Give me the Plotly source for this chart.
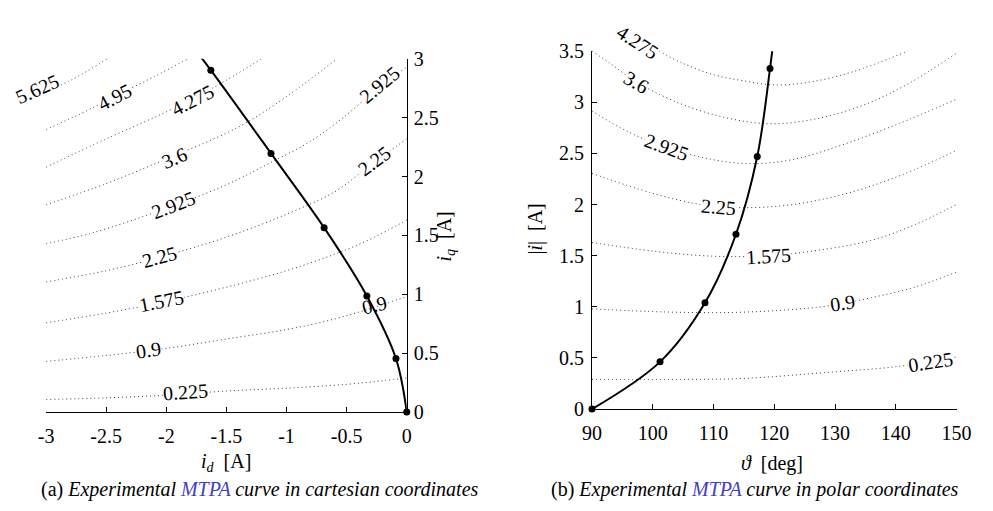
import numpy as np
import plotly.graph_objects as go

# ---------------------------------------------------------------------------
# MTPA operating points, polar form: current angle [deg] and amplitude [A]
mtpa_theta = [90.0, 101.2, 108.6, 113.7, 117.2, 119.3]
mtpa_amp = [0.0, 0.462, 1.04, 1.71, 2.47, 3.33]
# the fitted curve runs on a little past the last measured point
mtpa_tail_theta = [119.7]
mtpa_tail_amp = [3.52]

# constant-torque levels [Nm]
torque_levels = [0.225, 0.9, 1.575, 2.25, 2.925, 3.6, 4.275, 4.95, 5.625]

# iso-torque curves in the (id, iq) plane, one list per level
cart_id = [
    [-3.0, -2.5, -2.0, -1.5, -1.0, -0.5, -0.2, 0.0],
    [-3.0, -2.5, -2.0, -1.5, -1.0, -0.6, -0.3, 0.0],
    [-3.0, -2.5, -2.0, -1.5, -1.0, -0.6, -0.3, 0.0],
    [-3.0, -2.5, -2.0, -1.5, -1.0, -0.6, -0.3, 0.0],
    [-3.0, -2.62, -2.0, -1.5, -1.13, -0.8, -0.53, -0.23, 0.0],
    [-3.0, -2.5, -2.0, -1.4, -1.0, -0.58],
    [-3.0, -2.5, -2.0, -1.6, -1.21],
    [-3.0, -2.7, -2.43, -2.1, -1.82],
    [-3.0, -2.79, -2.49],
]
cart_iq = [
    [0.106, 0.12, 0.142, 0.178, 0.202, 0.235, 0.265, 0.29],
    [0.43, 0.48, 0.54, 0.62, 0.70, 0.79, 0.88, 0.98],
    [0.757, 0.84, 0.94, 1.06, 1.20, 1.34, 1.47, 1.63],
    [1.105, 1.20, 1.33, 1.485, 1.68, 1.87, 2.10, 2.32],
    [1.43, 1.52, 1.73, 1.93, 2.12, 2.30, 2.50, 2.76, 2.93],
    [1.76, 1.94, 2.15, 2.42, 2.68, 3.0],
    [2.08, 2.32, 2.55, 2.76, 3.0],
    [2.40, 2.54, 2.68, 2.85, 3.0],
    [2.72, 2.82, 3.0],
]

# iso-torque curves in the (theta, |i|) plane, first seven levels
polar_theta = [
    [90, 105, 115, 129, 140, 150],
    [90, 102, 113, 122, 129, 136, 143, 150],
    [90, 100, 110, 119, 128, 136, 143, 150],
    [90, 100, 108, 115, 123, 132, 141, 150],
    [90, 96, 102, 109, 116, 123, 131, 140, 150],
    [90, 93, 97.3, 104, 112, 119.4, 127, 135, 142, 150],
    [101, 105, 110, 115, 120, 126, 133, 141.5],
]
polar_amp = [
    [0.29, 0.29, 0.30, 0.36, 0.415, 0.51],
    [0.98, 0.95, 0.945, 0.97, 1.01, 1.09, 1.19, 1.34],
    [1.63, 1.545, 1.495, 1.50, 1.56, 1.65, 1.80, 2.0],
    [2.305, 2.11, 2.0, 1.97, 2.0, 2.11, 2.29, 2.53],
    [2.915, 2.71, 2.565, 2.45, 2.40, 2.44, 2.58, 2.78, 3.03],
    [3.50, 3.38, 3.2, 3.0, 2.85, 2.79, 2.84, 2.98, 3.18, 3.48],
    [3.5, 3.38, 3.27, 3.21, 3.17, 3.2, 3.3, 3.49],
]

# inline level labels: (level index, x, y, angle, x shift px, y shift px)
cart_labels = [
    (0, -1.84, 0.172, -4, 0, 0), (1, -2.15, 0.525, -8, 0, 0), (1, -0.27, 0.905, -14, 0, 0),
    (2, -2.04, 0.94, -11, 0, 0), (3, -2.06, 1.317, -15, 0, 0), (3, -0.27, 2.13, -37, 0, 0),
    (4, -1.94, 1.756, -21, 0, 0), (4, -0.23, 2.78, -40, 0, 0), (5, -1.935, 2.155, -23, 0, 0),
    (6, -1.78, 2.65, -27, 0, 0), (7, -2.43, 2.68, -27, 0, 0), (8, -2.99, 2.74, -24, -10, 0),
]
polar_labels = [
    (0, 145.7, 0.465, -9, 0, 0), (1, 131.2, 1.04, -8, 0, 0), (2, 119.1, 1.50, -3, 0, 0),
    (3, 110.9, 1.98, 5, 0, 0), (4, 102.2, 2.56, 20, 0, 0), (5, 97.3, 3.20, 30, 0, 0),
    (6, 97.5, 3.49, 33, 0, 10),
]

cart_xticks = [-3, -2.5, -2, -1.5, -1, -0.5, 0]
cart_xticktext = ["-3", "-2.5", "-2", "-1.5", "-1", "-0.5", "0"]
cart_yticks = [0, 0.5, 1, 1.5, 2, 2.5, 3]
cart_yticktext = ["0", "0.5", "1", "1.5", "2", "2.5", "3"]
polar_xticks = [90, 100, 110, 120, 130, 140, 150]
polar_yticks = [0, 0.5, 1, 1.5, 2, 2.5, 3, 3.5]
polar_yticktext = ["0", "0.5", "1", "1.5", "2", "2.5", "3", "3.5"]

# ---------------------------------------------------------------------------
SERIF = "Liberation Serif, Times New Roman, serif"
W, H = 993, 511
DOT = dict(color="#3a3a3a", width=1, dash="1px,3px")


def level_text(v):
    return f"{v:g}"


fig = go.Figure()

# iso-torque curves, cartesian panel
for xs, ys in zip(cart_id, cart_iq):
    fig.add_trace(go.Scatter(x=xs, y=ys, mode="lines", line=dict(shape="spline", **DOT),
                             xaxis="x", yaxis="y", hoverinfo="skip"))

# iso-torque curves, polar panel
for xs, ys in zip(polar_theta, polar_amp):
    fig.add_trace(go.Scatter(x=xs, y=ys, mode="lines", line=dict(shape="spline", **DOT),
                             xaxis="x2", yaxis="y2", hoverinfo="skip"))

# MTPA curve in both coordinate systems
th = np.radians(np.array(mtpa_theta))
amp = np.array(mtpa_amp)
th_all = np.radians(np.array(mtpa_theta + mtpa_tail_theta))
amp_all = np.array(mtpa_amp + mtpa_tail_amp)

fig.add_trace(go.Scatter(x=amp_all * np.cos(th_all), y=amp_all * np.sin(th_all), mode="lines",
                         line=dict(color="black", width=2, shape="spline"),
                         xaxis="x", yaxis="y"))
fig.add_trace(go.Scatter(x=amp * np.cos(th), y=amp * np.sin(th), mode="markers",
                         marker=dict(color="black", size=7), cliponaxis=False,
                         xaxis="x", yaxis="y"))
fig.add_trace(go.Scatter(x=mtpa_theta + mtpa_tail_theta, y=mtpa_amp + mtpa_tail_amp, mode="lines",
                         line=dict(color="black", width=2, shape="spline"),
                         xaxis="x2", yaxis="y2"))
fig.add_trace(go.Scatter(x=mtpa_theta, y=mtpa_amp, mode="markers",
                         marker=dict(color="black", size=7), cliponaxis=False,
                         xaxis="x2", yaxis="y2"))

annotations = []
label_font = dict(family=SERIF, size=20, color="black")
for idx, x, y, ang, dx, dy in cart_labels:
    bg = "rgba(0,0,0,0)" if (idx == 1 and x > -1) else "white"
    annotations.append(dict(x=x, y=y, xref="x", yref="y", text=level_text(torque_levels[idx]),
                            textangle=ang, showarrow=False, font=label_font,
                            xshift=dx, yshift=dy, bgcolor=bg, borderpad=0))
for idx, x, y, ang, dx, dy in polar_labels:
    annotations.append(dict(x=x, y=y, xref="x2", yref="y2", text=level_text(torque_levels[idx]),
                            textangle=ang, showarrow=False, font=label_font,
                            xshift=dx, yshift=dy, bgcolor="white", borderpad=0))

title_font = dict(family=SERIF, size=20, color="black")


def paper_annotation(text, px, py, angle=0, font=title_font):
    return dict(x=px / W, y=1 - py / H, xref="paper", yref="paper", text=text,
                showarrow=False, textangle=angle, font=font,
                xanchor="center", yanchor="middle")


annotations += [
    paper_annotation("<i>i<sub>d</sub></i>  [A]", 222, 472),
    paper_annotation("<i>i<sub>q</sub></i>  [A]", 447, 236, angle=-90),
    paper_annotation("<i>\u03d1</i>  [deg]", 782, 473),
    paper_annotation("|<i>i</i>|  [A]", 539, 228, angle=-90),
]
cap_font = dict(family=SERIF, size=20, color="black")
blue = "#4040c0"
annotations += [
    paper_annotation(f"(a) <i>Experimental <span style='color:{blue}'>MTPA</span> curve in cartesian coordinates</i>",
                     256, 500, font=cap_font),
    paper_annotation(f"(b) <i>Experimental <span style='color:{blue}'>MTPA</span> curve in polar coordinates</i>",
                     764, 500, font=cap_font),
]

axis_common = dict(showgrid=False, zeroline=False, showline=True, linecolor="black", linewidth=1,
                   ticks="inside", ticklen=5, tickwidth=1, tickcolor="black",
                   tickfont=dict(family=SERIF, size=20, color="black"), mirror=False)

fig.update_layout(
    width=W, height=H, margin=dict(l=0, r=0, t=0, b=0),
    paper_bgcolor="white", plot_bgcolor="white", showlegend=False,
    xaxis=dict(domain=[37 / W, 407 / W], range=[-3, 0], anchor="y", ticklabelstandoff=6,
               tickmode="array", tickvals=cart_xticks, ticktext=cart_xticktext, **axis_common),
    yaxis=dict(domain=[1 - 419 / H, 1 - 50 / H], range=[0, 3], anchor="x", side="right",
               ticklabelstandoff=2,
               tickmode="array", tickvals=cart_yticks, ticktext=cart_yticktext, **axis_common),
    xaxis2=dict(domain=[597 / W, 971 / W], range=[90, 150], anchor="y2", ticklabelstandoff=6,
                tickmode="array", tickvals=polar_xticks, **axis_common),
    yaxis2=dict(domain=[1 - 416 / H, 1 - 42 / H], range=[0, 3.5], anchor="x2",
                ticklabelstandoff=3,
                tickmode="array", tickvals=polar_yticks, ticktext=polar_yticktext, **axis_common),
    annotations=annotations,
)

fig.write_html("out.html")
